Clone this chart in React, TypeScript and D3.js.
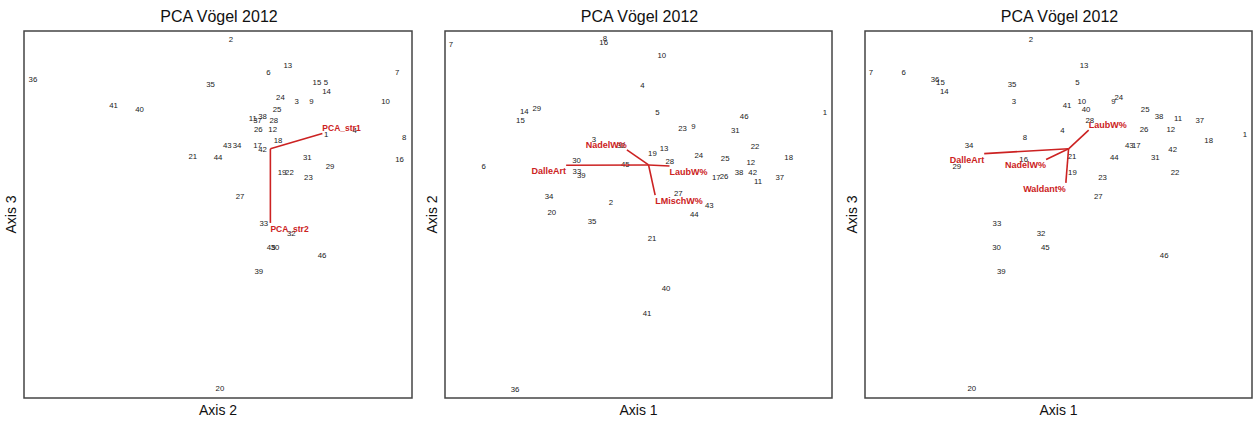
import React from "react";
import * as d3 from "d3";

// Site scores (percent of plotted axis range), sites 1..46
const siteLabels = d3.range(1, 47).map(String);
const PC1 = [98.2, 42.9, 38.5, 51.0, 54.9, 10.0, 1.5, 41.3, 64.2, 56.0,
  80.9, 79.0, 56.6, 20.5, 19.5, 41.0, 70.1, 88.8, 53.6, 27.6,
  53.5, 80.1, 61.4, 65.6, 72.4, 72.1, 60.3, 58.1, 23.7, 34.0,
  75.0, 45.5, 34.1, 26.9, 38.0, 18.1, 86.5, 76.0, 35.2, 57.1,
  52.2, 79.5, 68.3, 64.4, 46.6, 77.3];
const PC2 = [77.9, 53.3, 70.3, 85.2, 77.8, 63.0, 96.2, 98.0, 74.1, 93.2,
  59.0, 64.1, 68.0, 78.0, 75.5, 96.8, 60.2, 65.5, 66.5, 50.5,
  43.5, 68.4, 73.3, 66.1, 65.2, 60.4, 55.7, 64.4, 78.9, 64.7,
  73.0, 68.9, 61.8, 54.9, 48.1, 2.3, 60.2, 61.5, 60.5, 29.8,
  23.1, 61.5, 52.4, 50.0, 63.7, 76.8];
const PC3 = [71.9, 97.7, 80.7, 73.0, 86.0, 88.8, 88.8, 70.9, 80.7, 80.8,
  76.2, 73.2, 90.7, 83.4, 86.0, 65.0, 68.7, 70.2, 61.4, 2.5,
  65.9, 61.4, 60.1, 81.8, 78.5, 73.2, 54.9, 75.6, 63.0, 40.9,
  65.6, 44.7, 47.5, 68.9, 85.4, 86.9, 75.7, 76.6, 34.6, 78.5,
  79.6, 67.6, 68.9, 65.6, 41.1, 38.9];

// Origin (0,0) of each axis on the same percent scale
const axisOrigin = { PC1: 52.6, PC2: 63.5, PC3: 67.9 };

// Fitted vectors per panel (dx, dy in axis units)
const vectors1Names = ["PCA_str1", "PCA_str2"];
const vectors1Dx = [13.4, 0];
const vectors1Dy = [4.2, -20.2];
const vectors2Names = ["DalleArt", "NadelW%", "LaubW%", "LMischW%"];
const vectors2Dx = [-21.3, -5.6, 5.4, 1.7];
const vectors2Dy = [-0.1, 4.1, -0.3, -8.2];
const vectors3Names = ["DalleArt", "NadelW%", "Waldant%", "LaubW%"];
const vectors3Dx = [-21.8, -5.8, -0.7, 5.2];
const vectors3Dy = [-1.3, -2.9, -9.3, 5.1];

const titleText = "PCA Vögel 2012";

const axes: Record<string, number[]> = { PC1, PC2, PC3 };

const panels = [
  { left: 24, width: 388, xKey: "PC2", yKey: "PC3", xLabel: "Axis 2", yLabel: "Axis 3",
    names: vectors1Names, dx: vectors1Dx, dy: vectors1Dy, vfont: 8.5 },
  { left: 445, width: 387, xKey: "PC1", yKey: "PC2", xLabel: "Axis 1", yLabel: "Axis 2",
    names: vectors2Names, dx: vectors2Dx, dy: vectors2Dy, vfont: 9 },
  { left: 865, width: 387, xKey: "PC1", yKey: "PC3", xLabel: "Axis 1", yLabel: "Axis 3",
    names: vectors3Names, dx: vectors3Dx, dy: vectors3Dy, vfont: 9 },
];

const TOP = 31;
const BOTTOM = 398;
const RED = "#cc2222";
const FONT = "Liberation Sans, Arial, sans-serif";

function Panel({ p }: { p: (typeof panels)[number] }) {
  const x = d3.scaleLinear().domain([0, 100]).range([p.left, p.left + p.width]);
  const y = d3.scaleLinear().domain([0, 100]).range([BOTTOM, TOP]);
  const xs = axes[p.xKey];
  const ys = axes[p.yKey];
  const ox = axisOrigin[p.xKey as keyof typeof axisOrigin];
  const oy = axisOrigin[p.yKey as keyof typeof axisOrigin];
  const cx = p.left + p.width / 2;
  return (
    <g>
      <text x={cx + 1} y={22} textAnchor="middle" fontSize={16} fontFamily={FONT} fill="#111">
        {titleText}
      </text>
      <rect x={p.left} y={TOP} width={p.width} height={BOTTOM - TOP} fill="white"
        stroke="#444" strokeWidth={1.5} />
      {siteLabels.map((s, i) => (
        <text key={s} x={x(xs[i])} y={y(ys[i])} textAnchor="middle" dominantBaseline="central"
          fontSize={7.8} fontFamily={FONT} fill="#222">
          {s}
        </text>
      ))}
      {p.names.map((n, i) => {
        const ex = x(ox + p.dx[i]);
        const ey = y(oy + p.dy[i]);
        return (
          <g key={n}>
            <line x1={x(ox)} y1={y(oy)} x2={ex} y2={ey} stroke={RED} strokeWidth={1.6} />
            <text x={ex} y={ey + (p.dy[i] > 0 ? -5 : 6)} textAnchor={p.dx[i] < 0 ? "end" : "start"}
              dominantBaseline="central" fontSize={p.vfont} fontWeight="bold" fontFamily={FONT} fill={RED}>
              {n}
            </text>
          </g>
        );
      })}
      <text x={cx} y={415} textAnchor="middle" fontSize={14} fontFamily={FONT} fill="#111">
        {p.xLabel}
      </text>
      <text transform={`translate(${p.left - 8},${(TOP + BOTTOM) / 2}) rotate(-90)`} textAnchor="middle"
        fontSize={14} fontFamily={FONT} fill="#111">
        {p.yLabel}
      </text>
    </g>
  );
}

export default function App() {
  return (
    <svg width={1256} height={425} style={{ position: "absolute", left: 0, top: 0, background: "white" }}>
      <rect width={1256} height={425} fill="white" />
      {panels.map((p, i) => (
        <Panel key={i} p={p} />
      ))}
    </svg>
  );
}
